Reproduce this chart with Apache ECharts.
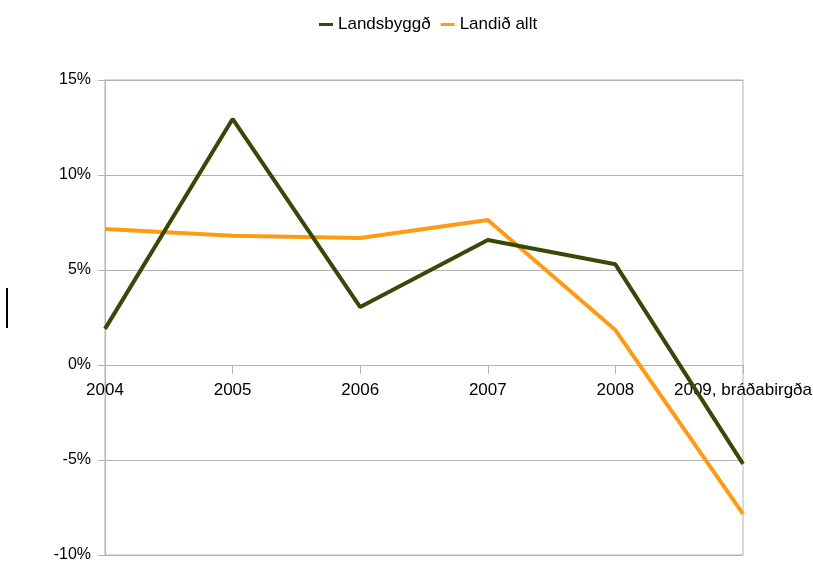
<!DOCTYPE html>
<html>
<head>
<meta charset="utf-8">
<script src="https://cdn.jsdelivr.net/npm/echarts@6/dist/echarts.min.js"></script>
<style>
html,body{margin:0;padding:0;background:#fff;}
#chart{width:813px;height:562px;}
</style>
</head>
<body>
<div id="chart"></div>
<script>
const years = ['2004', '2005', '2006', '2007', '2008', '2009, bráðabirgða']
const landsbyggd = [1.9, 12.95, 3.05, 6.58, 5.3, -5.2]
const landidAllt = [7.16, 6.8, 6.68, 7.63, 1.84, -7.84]

const font = 'Liberation Sans'
let chart = echarts.init(document.getElementById('chart'))
let option = {
  animation:false,
  textStyle:{fontFamily:font},
  legend:{
    top:11,
    left:314,
    itemWidth:14,
    itemHeight:3,
    itemGap:10,
    icon:'rect',
    textStyle:{fontFamily:font, fontSize:17, color:'#000'},
    data:['Landsbyggð','Landið allt']
  },
  grid:{
    left:105,
    right:70,
    top:80,
    bottom:7,
    outerBoundsMode:'none',
    show:true,
    borderColor:'#b3b3b3',
    borderWidth:1
  },
  xAxis:[{
    type:'category',
    boundaryGap:false,
    data:years,
    axisLine:{onZero:true, lineStyle:{color:'#b3b3b3'}},
    axisTick:{show:true, length:9, lineStyle:{color:'#b3b3b3'}},
    axisLabel:{
      interval:0,
      margin:-173,
      fontFamily:font,
      fontSize:17,
      color:'#000'
    },
    splitLine:{show:false}
  }],
  yAxis:[{
    type:'value',
    min:-10,
    max:15,
    interval:5,
    axisLine:{show:true, lineStyle:{color:'#b3b3b3'}},
    axisTick:{show:true, length:7, lineStyle:{color:'#b3b3b3'}},
    axisLabel:{
      margin:14,
      fontFamily:font,
      fontSize:16,
      color:'#000',
      formatter:'{value}%'
    },
    splitLine:{lineStyle:{color:'#b3b3b3'}}
  }],
  series:[{
    name:'Landsbyggð',
    type:'line',
    data:landsbyggd,
    showSymbol:false,
    color:'#384807',
    lineStyle:{width:4, color:'#384807'},
    z:3
  },{
    name:'Landið allt',
    type:'line',
    data:landidAllt,
    showSymbol:false,
    color:'#ff9a14',
    lineStyle:{width:4, color:'#ff9a14'},
    z:2
  }],
  graphic:[{
    type:'rect',
    shape:{x:6, y:288, width:2, height:40},
    style:{fill:'#000'}
  }]
}
chart.setOption(option)
</script>
</body>
</html>
